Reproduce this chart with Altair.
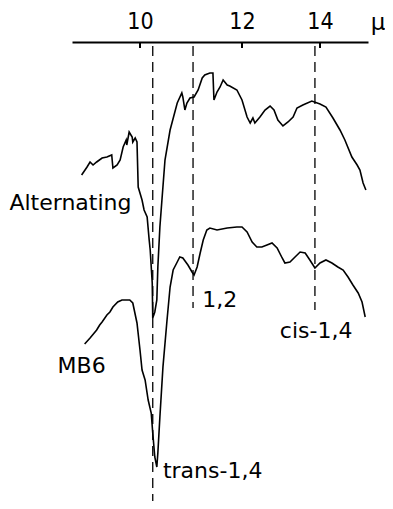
import altair as alt
import pandas as pd

# wavelength (micron) and relative transmission (arbitrary units, up = higher)
alt_mu = [9.03, 9.12, 9.17, 9.22, 9.28, 9.37, 9.45, 9.53, 9.55, 9.62, 9.67, 9.72, 9.77, 9.78,
          9.82, 9.87, 9.88, 9.92, 9.95, 9.97, 10.04, 10.08, 10.14, 10.18, 10.20, 10.24, 10.25,
          10.29, 10.33, 10.35, 10.39, 10.43, 10.49, 10.59, 10.73, 10.82, 10.84, 10.88, 10.92,
          10.98, 11.06, 11.14, 11.22, 11.27, 11.37, 11.43, 11.45, 11.51, 11.57, 11.63, 11.71,
          11.76, 11.90, 12.00, 12.13, 12.21, 12.28, 12.33, 12.46, 12.59, 12.72, 12.82, 12.92,
          13.05, 13.18, 13.31, 13.41, 13.56, 13.79, 14.00, 14.17, 14.37, 14.57, 14.71, 14.91,
          15.06, 15.14, 15.23, 15.31]
alt_val = [334, 342, 347, 344, 347, 351, 352, 354, 341, 344, 349, 362, 369, 364,
           377, 372, 367, 371, 367, 322, 309, 299, 292, 269, 259, 226, 191,
           197, 209, 242, 282, 309, 349, 379, 406, 416, 412, 399, 406,
           411, 412, 419, 431, 434, 436, 436, 409, 417, 422, 429, 424,
           423, 419, 409, 392, 386, 391, 386, 392, 399, 403, 399, 389,
           383, 387, 392, 401, 404, 408, 405, 402, 391, 379, 369, 352,
           344, 339, 326, 319]

mb6_mu = [9.08, 9.17, 9.28, 9.33, 9.37, 9.45, 9.50, 9.55, 9.63, 9.70, 9.83, 9.88, 9.95, 10.00,
          10.04, 10.10, 10.16, 10.22, 10.25, 10.29, 10.33, 10.35, 10.39, 10.45, 10.53, 10.59,
          10.65, 10.73, 10.78, 10.84, 10.94, 11.02, 11.06, 11.12, 11.18, 11.24, 11.31, 11.37,
          11.51, 11.71, 11.90, 12.00, 12.13, 12.26, 12.38, 12.51, 12.64, 12.77, 12.90, 13.03,
          13.10, 13.23, 13.36, 13.49, 13.62, 13.74, 13.87, 14.00, 14.17, 14.34, 14.51, 14.66,
          14.80, 14.94, 15.09, 15.20, 15.29]
mb6_val = [165, 171, 179, 184, 187, 194, 197, 202, 207, 209, 209, 206, 186, 159,
           139, 129, 109, 96, 76, 52, 42, 56, 92, 142, 189, 222,
           239, 247, 252, 251, 244, 237, 234, 242, 256, 269, 279, 281,
           279, 281, 282, 282, 277, 267, 262, 262, 264, 266, 261, 251,
           246, 247, 252, 257, 256, 249, 241, 246, 249, 246, 242, 239,
           232, 224, 216, 207, 192]

# marker lines (band assignments)
mark_mu = [10.25, 11.04, 13.87]
mark_top = [463, 463, 463]
mark_bot = [8, 201, 199]

# text labels
lab_text = ["Alternating", "MB6", "1,2", "cis-1,4", "trans-1,4"]
lab_mu = [7.83, 8.63, 11.22, 12.97, 10.45]
lab_val = [299, 136, 202, 171, 31]

tick_vals = [10, 12, 14]

FONT = "DejaVu Sans"
AXFONT = "DejaVu Sans Condensed"

curves = pd.DataFrame({
    "mu": alt_mu + mb6_mu,
    "val": alt_val + mb6_val,
    "series": ["Alternating"] * len(alt_mu) + ["MB6"] * len(mb6_mu),
})
marks = pd.DataFrame({"mu": mark_mu, "v1": mark_top, "v2": mark_bot})
labels = pd.DataFrame({"text": lab_text, "mu": lab_mu, "val": lab_val})
ticks = pd.DataFrame({"mu": tick_vals, "v1": [467] * 3, "v2": [461] * 3})
unit = pd.DataFrame({"text": ["μ"], "mu": [15.66], "val": [479]})

xscale = alt.Scale(domain=[8.87, 10, 12, 14, 15.37], range=[64, 132, 234, 312, 360], nice=False)
yscale = alt.Scale(domain=[8, 467], nice=False, zero=False)

xaxis = alt.Axis(orient="top", values=tick_vals, title=None, ticks=False, tickSize=0,
                 grid=False, domainColor="black", domainWidth=2, labelFont=AXFONT,
                 labelFontSize=23, labelColor="black", labelPadding=9, labelFlush=False,
                 format="d")

base_x = alt.X("mu:Q", scale=xscale, axis=xaxis)

lines = alt.Chart(curves).mark_line(color="black", strokeWidth=1.6).encode(
    x=base_x,
    y=alt.Y("val:Q", scale=yscale, axis=None),
    detail="series:N",
)

dashes = alt.Chart(marks).mark_rule(color="black", strokeWidth=1.3, strokeDash=[10, 6]).encode(
    x=alt.X("mu:Q", scale=xscale),
    y=alt.Y("v1:Q", scale=yscale),
    y2="v2:Q",
)

tickmarks = alt.Chart(ticks).mark_rule(color="black", strokeWidth=2).encode(
    x=alt.X("mu:Q", scale=xscale),
    y=alt.Y("v1:Q", scale=yscale),
    y2="v2:Q",
)

texts = alt.Chart(labels).mark_text(font=FONT, fontSize=22, align="left",
                                    baseline="alphabetic", color="black").encode(
    x=alt.X("mu:Q", scale=xscale),
    y=alt.Y("val:Q", scale=yscale),
    text="text:N",
)

unit_text = alt.Chart(unit).mark_text(font=FONT, fontSize=23, align="center",
                                      baseline="alphabetic", color="black").encode(
    x=alt.X("mu:Q", scale=xscale),
    y=alt.Y("val:Q", scale=yscale),
    text="text:N",
)

chart = alt.layer(lines, dashes, tickmarks, texts, unit_text).properties(
    width=377, height=459,
    autosize=alt.AutoSizeParams(type="none"),
    padding={"left": 0, "top": 34, "right": 0, "bottom": 0},
).configure_view(stroke=None)

chart.save("out.html", embed_options={"renderer": "svg", "actions": False})
